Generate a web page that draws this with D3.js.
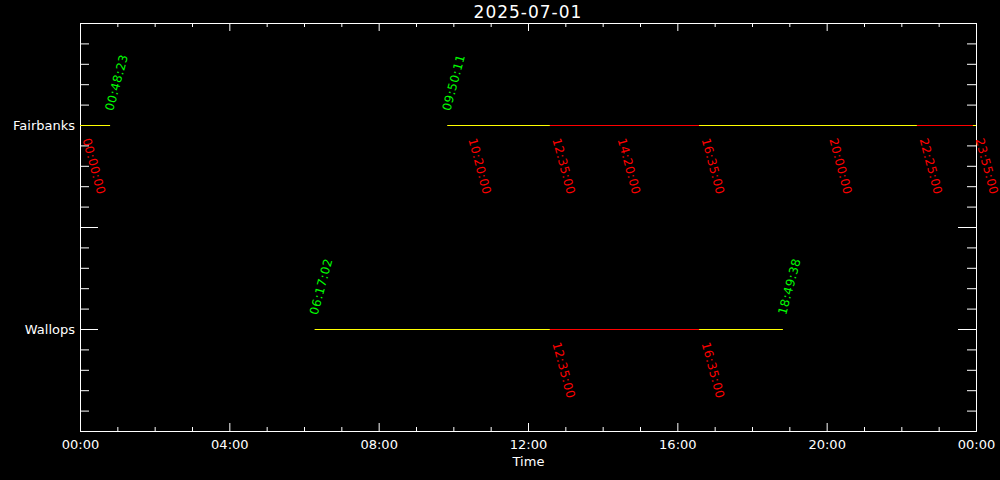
<!DOCTYPE html>
<html>
<head>
<meta charset="utf-8">
<script src="https://cdn.jsdelivr.net/npm/d3@7"></script>
<style>
  html, body { margin: 0; padding: 0; background: #000; }
  svg { display: block; }
  text { font-family: "DejaVu Sans", sans-serif; }
</style>
</head>
<body>
<script>
// ---------- data ----------
const title = "2025-07-01";
const day = "2025-07-01";
const stations = ["Wallops", "Fairbanks"];
const stationLevels = [1, 3];
// visibility windows (yellow) per station
const fairbanksWindows = [["00:00:00", "00:48:23"], ["09:50:11", "24:00:00"]];
const wallopsWindows = [["06:17:02", "18:49:38"]];
// highlighted intervals (red)
const fairbanksRed = [["12:35:00", "16:35:00"], ["22:25:00", "23:55:00"]];
const wallopsRed = [["12:35:00", "16:35:00"]];
// green labels (window edges)
const fairbanksGreen = ["00:48:23", "09:50:11"];
const wallopsGreen = ["06:17:02", "18:49:38"];
// red labels (event times)
const fairbanksRedLabels = ["00:00:00", "10:20:00", "12:35:00", "14:20:00", "16:35:00", "20:00:00", "22:25:00", "23:55:00"];
const wallopsRedLabels = ["12:35:00", "16:35:00"];
const xTickHours = [0, 4, 8, 12, 16, 20, 24];

// ---------- setup ----------
const W = 1000, H = 480;
const L = 80, R = 976, T = 23, B = 431;
const t0 = new Date(day + "T00:00:00Z");
const t1 = new Date(t0.getTime() + 24 * 3600e3);
const toDate = s => {
  const [h, m, sec] = s.split(":").map(Number);
  return new Date(t0.getTime() + ((h * 60 + m) * 60 + sec) * 1000);
};

const x = d3.scaleUtc().domain([t0, t1]).range([L, R]);
const y = d3.scaleLinear().domain([0, 4]).range([B, T]);
const fmt = d3.utcFormat("%H:%M");

const svg = d3.select("body").append("svg").attr("width", W).attr("height", H);
svg.append("rect").attr("width", W).attr("height", H).attr("fill", "#000");

const hourTicks = d3.range(0, 25).map(h => new Date(t0.getTime() + h * 3600e3));
const majorXTicks = xTickHours.map(h => new Date(t0.getTime() + h * 3600e3));
const minorXTicks = hourTicks.filter(d => (d - t0) / 3600e3 % 4 !== 0);
const minorYTicks = d3.range(0, 21).map(i => i / 5).filter(v => Math.abs(v - Math.round(v)) > 1e-9);
const majorYTicks = [0, 1, 2, 3, 4];

function styleAxis(g) {
  g.selectAll("path, line").attr("stroke", "#fff").attr("stroke-width", 1);
  g.selectAll("text").attr("fill", "#fff").attr("font-size", 13).attr("font-family", "DejaVu Sans, sans-serif");
}

// bottom axis: major ticks + labels
svg.append("g").attr("transform", `translate(0,${B})`)
  .call(d3.axisBottom(x).tickValues(majorXTicks).tickFormat(fmt).tickSizeInner(-8).tickSizeOuter(0).tickPadding(9))
  .call(styleAxis);
svg.append("g").attr("transform", `translate(0,${B})`)
  .call(d3.axisBottom(x).tickValues(minorXTicks).tickFormat("").tickSizeInner(-4).tickSizeOuter(0))
  .call(styleAxis);
// top axis
svg.append("g").attr("transform", `translate(0,${T})`)
  .call(d3.axisTop(x).tickValues(majorXTicks).tickFormat("").tickSizeInner(-8).tickSizeOuter(0))
  .call(styleAxis);
svg.append("g").attr("transform", `translate(0,${T})`)
  .call(d3.axisTop(x).tickValues(minorXTicks).tickFormat("").tickSizeInner(-4).tickSizeOuter(0))
  .call(styleAxis);
// left axis
const stationName = v => { const i = stationLevels.indexOf(v); return i >= 0 ? stations[i] : ""; };
svg.append("g").attr("transform", `translate(${L},0)`)
  .call(d3.axisLeft(y).tickValues(majorYTicks).tickFormat(stationName).tickSizeInner(-18).tickSizeOuter(0).tickPadding(5))
  .call(styleAxis);
svg.append("g").attr("transform", `translate(${L},0)`)
  .call(d3.axisLeft(y).tickValues(minorYTicks).tickFormat("").tickSizeInner(-9).tickSizeOuter(0))
  .call(styleAxis);
// right axis
svg.append("g").attr("transform", `translate(${R},0)`)
  .call(d3.axisRight(y).tickValues(majorYTicks).tickFormat("").tickSizeInner(-18).tickSizeOuter(0))
  .call(styleAxis);
svg.append("g").attr("transform", `translate(${R},0)`)
  .call(d3.axisRight(y).tickValues(minorYTicks).tickFormat("").tickSizeInner(-9).tickSizeOuter(0))
  .call(styleAxis);

// titles
svg.append("text").attr("x", (L + R) / 2).attr("y", 18).attr("text-anchor", "middle")
  .attr("fill", "#fff").attr("font-size", 17).attr("letter-spacing", 1).text(title);
svg.append("text").attr("x", (L + R) / 2 + 0.5).attr("y", 466).attr("text-anchor", "middle")
  .attr("fill", "#fff").attr("font-size", 13).text("Time");

// ---------- marks ----------
const rows = [
  { level: 3, windows: fairbanksWindows, red: fairbanksRed, green: fairbanksGreen, redLabels: fairbanksRedLabels },
  { level: 1, windows: wallopsWindows, red: wallopsRed, green: wallopsGreen, redLabels: wallopsRedLabels }
];

const marks = svg.append("g");
rows.forEach(row => {
  const yy = Math.round(y(row.level)) + 0.5;
  marks.selectAll(null).data(row.windows).join("line")
    .attr("x1", d => x(toDate(d[0]))).attr("x2", d => x(toDate(d[1])))
    .attr("y1", yy).attr("y2", yy).attr("stroke", "#ffff00").attr("stroke-width", 1);
  marks.selectAll(null).data(row.red).join("line")
    .attr("x1", d => x(toDate(d[0]))).attr("x2", d => x(toDate(d[1])))
    .attr("y1", yy).attr("y2", yy).attr("stroke", "#ff0000").attr("stroke-width", 1);
  marks.selectAll(null).data(row.green).join("text")
    .attr("transform", d => `translate(${x(toDate(d)) + 3},${yy - 14}) rotate(-75)`)
    .attr("fill", "#00ff00").attr("font-size", 12).attr("letter-spacing", 0.5).text(d => d);
  marks.selectAll(null).data(row.redLabels).join("text")
    .attr("transform", d => `translate(${x(toDate(d)) + 2.5},${yy + 14}) rotate(75)`)
    .attr("fill", "#ff0000").attr("font-size", 12).attr("letter-spacing", 0.5).text(d => d);
});
</script>
</body>
</html>
